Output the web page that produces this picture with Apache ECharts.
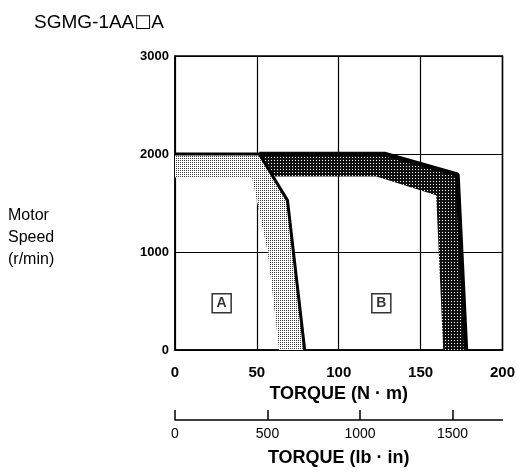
<!DOCTYPE html>
<html>
<head>
<meta charset="utf-8">
<script src="https://cdn.jsdelivr.net/npm/echarts@6/dist/echarts.min.js"></script>
<style>
html,body{margin:0;padding:0;background:#fff;}
#chart{width:518px;height:472px;}
</style>
</head>
<body>
<div id="chart"></div>
<script>
// ---- data ----
const torqueTicks = [0, 50, 100, 150, 200];          // N·m
const speedTicks = [0, 1000, 2000, 3000];            // r/min
const lbinTicks = [0, 500, 1000, 1500];              // lb·in
const lbinMax = 1770;                                // 200 N·m in lb·in

// boundary of the continuous/intermittent zone (black line)
const zoneBoundaryTorque = [0, 51.5, 68.7, 79.2];
const zoneBoundarySpeed  = [2000, 2000, 1527, 0];
// inner edge of the light band
const lightInnerTorque = [0, 47, 56.6, 63.6];
const lightInnerSpeed  = [1760, 1760, 1000, 0];
// dark band outer / inner edges
const darkOuterTorque = [51.5, 128, 172.5, 177.7];
const darkOuterSpeed  = [2000, 2000, 1790, 0];
const darkInnerTorque = [60, 123, 159.5, 163.8];
const darkInnerSpeed  = [1770, 1770, 1580, 0];
// region labels
const regionNames  = ['A', 'B'];
const regionTorque = [28.5, 126];
const regionSpeed  = [476, 476];

// ---- helpers ----
function pts(xs, ys) { return xs.map((x, i) => [x, ys[i]]); }
function makePattern(fg, bg, size, cells) {
  const c = document.createElement('canvas');
  c.width = size; c.height = size;
  const ctx = c.getContext('2d');
  ctx.fillStyle = bg; ctx.fillRect(0, 0, size, size);
  ctx.fillStyle = fg;
  cells.forEach(p => ctx.fillRect(p[0], p[1], 1, 1));
  return { image: c, repeat: 'repeat' };
}
const lightFill = makePattern('#3c3c3c', '#ffffff', 2, [[0,0]]);
const darkFill  = makePattern('#ffffff', '#111111', 3, [[1,1]]);

const lightPoly = pts(zoneBoundaryTorque, zoneBoundarySpeed)
  .concat(pts(lightInnerTorque, lightInnerSpeed).reverse());
const darkPoly = pts(darkOuterTorque, darkOuterSpeed)
  .concat(pts(darkInnerTorque, darkInnerSpeed).reverse());
const polygons = [
  { points: lightPoly, fill: lightFill },
  { points: darkPoly, fill: darkFill }
];

const FONT = '"Liberation Sans", Arial, Helvetica, sans-serif';

const chart = echarts.init(document.getElementById('chart'), null, { renderer: 'canvas' });
chart.setOption({
  animation: false,
  backgroundColor: '#fff',
  title: {
    text: 'SGMG-1AA{b|\u25A1}A',
    left: 29, top: 8,
    textStyle: {
      fontFamily: FONT, fontSize: 19, fontWeight: 'normal', color: '#000',
      rich: { b: { fontFamily: '"DejaVu Sans"', fontSize: 18, color: '#000', fontWeight: 'normal' } }
    }
  },
  graphic: [{
    type: 'text', left: 8, top: 205,
    style: {
      text: 'Motor\nSpeed\n(r/min)',
      font: '16px ' + FONT, fill: '#000', lineHeight: 22
    }
  }],
  grid: {
    left: 175, right: 13, top: 56, bottom: 117,
    show: true, borderColor: '#000', borderWidth: 1.5, backgroundColor: 'transparent'
  },
  xAxis: [{
    type: 'value', min: 0, max: 200, interval: 50, position: 'bottom',
    axisLine: { show: true, lineStyle: { color: '#000', width: 1.5 } },
    axisTick: { show: false },
    splitLine: { show: true, lineStyle: { color: '#000', width: 1.2 } },
    axisLabel: { margin: 15, fontFamily: FONT, fontSize: 15, fontWeight: 'bold', color: '#000' },
    name: 'TORQUE (N \u00B7 m)', nameLocation: 'middle', nameGap: 33,
    nameTextStyle: { fontFamily: FONT, fontSize: 18, fontWeight: 'bold', color: '#000' }
  }, {
    type: 'value', min: 0, max: lbinMax, interval: 500, position: 'bottom', offset: 70,
    axisLine: { show: true, onZero: false, lineStyle: { color: '#000', width: 1.5 } },
    axisTick: { show: true, inside: true, length: 10, lineStyle: { color: '#000', width: 1.5 } },
    splitLine: { show: false },
    axisLabel: {
      margin: 7, fontFamily: FONT, fontSize: 14, color: '#000', showMaxLabel: false,
      formatter: v => (lbinTicks.indexOf(v) >= 0 ? String(v) : '')
    },
    name: 'TORQUE (lb \u00B7 in)', nameLocation: 'middle', nameGap: 29,
    nameTextStyle: { fontFamily: FONT, fontSize: 18, fontWeight: 'bold', color: '#000' }
  }],
  yAxis: {
    type: 'value', min: 0, max: 3000, interval: 1000,
    axisLine: { show: true, lineStyle: { color: '#000', width: 1.5 } },
    axisTick: { show: false },
    splitLine: { show: true, lineStyle: { color: '#000', width: 1.2 } },
    axisLabel: { margin: 6, fontFamily: FONT, fontSize: 13, fontWeight: 'bold', color: '#000',
      formatter: v => (speedTicks.indexOf(v) >= 0 ? String(v) : '') }
  },
  series: [{
    type: 'custom',
    xAxisIndex: 0, yAxisIndex: 0,
    data: polygons.map((p, i) => [i]),
    renderItem: function (params, api) {
      const poly = polygons[api.value(0)];
      return {
        type: 'polygon',
        shape: { points: poly.points.map(p => api.coord(p)) },
        style: { fill: poly.fill, stroke: null }
      };
    },
    z: 1
  }, {
    type: 'line', xAxisIndex: 0, data: pts(zoneBoundaryTorque, zoneBoundarySpeed),
    symbol: 'none', lineStyle: { color: '#000', width: 3 }, z: 3
  }, {
    type: 'line', xAxisIndex: 0, data: pts(darkOuterTorque, darkOuterSpeed),
    symbol: 'none', lineStyle: { color: '#000', width: 4.5 }, z: 3
  }, {
    type: 'scatter', xAxisIndex: 0,
    data: regionNames.map((n, i) => ({ name: n, value: [regionTorque[i], regionSpeed[i]] })),
    symbol: 'rect', symbolSize: [19, 19],
    itemStyle: { color: '#fff', borderColor: '#000', borderWidth: 1.5 },
    label: { show: true, position: 'inside', formatter: p => p.name,
      fontFamily: FONT, fontSize: 14, fontWeight: 'bold', color: '#000' },
    z: 4
  }]
});
</script>
</body>
</html>
